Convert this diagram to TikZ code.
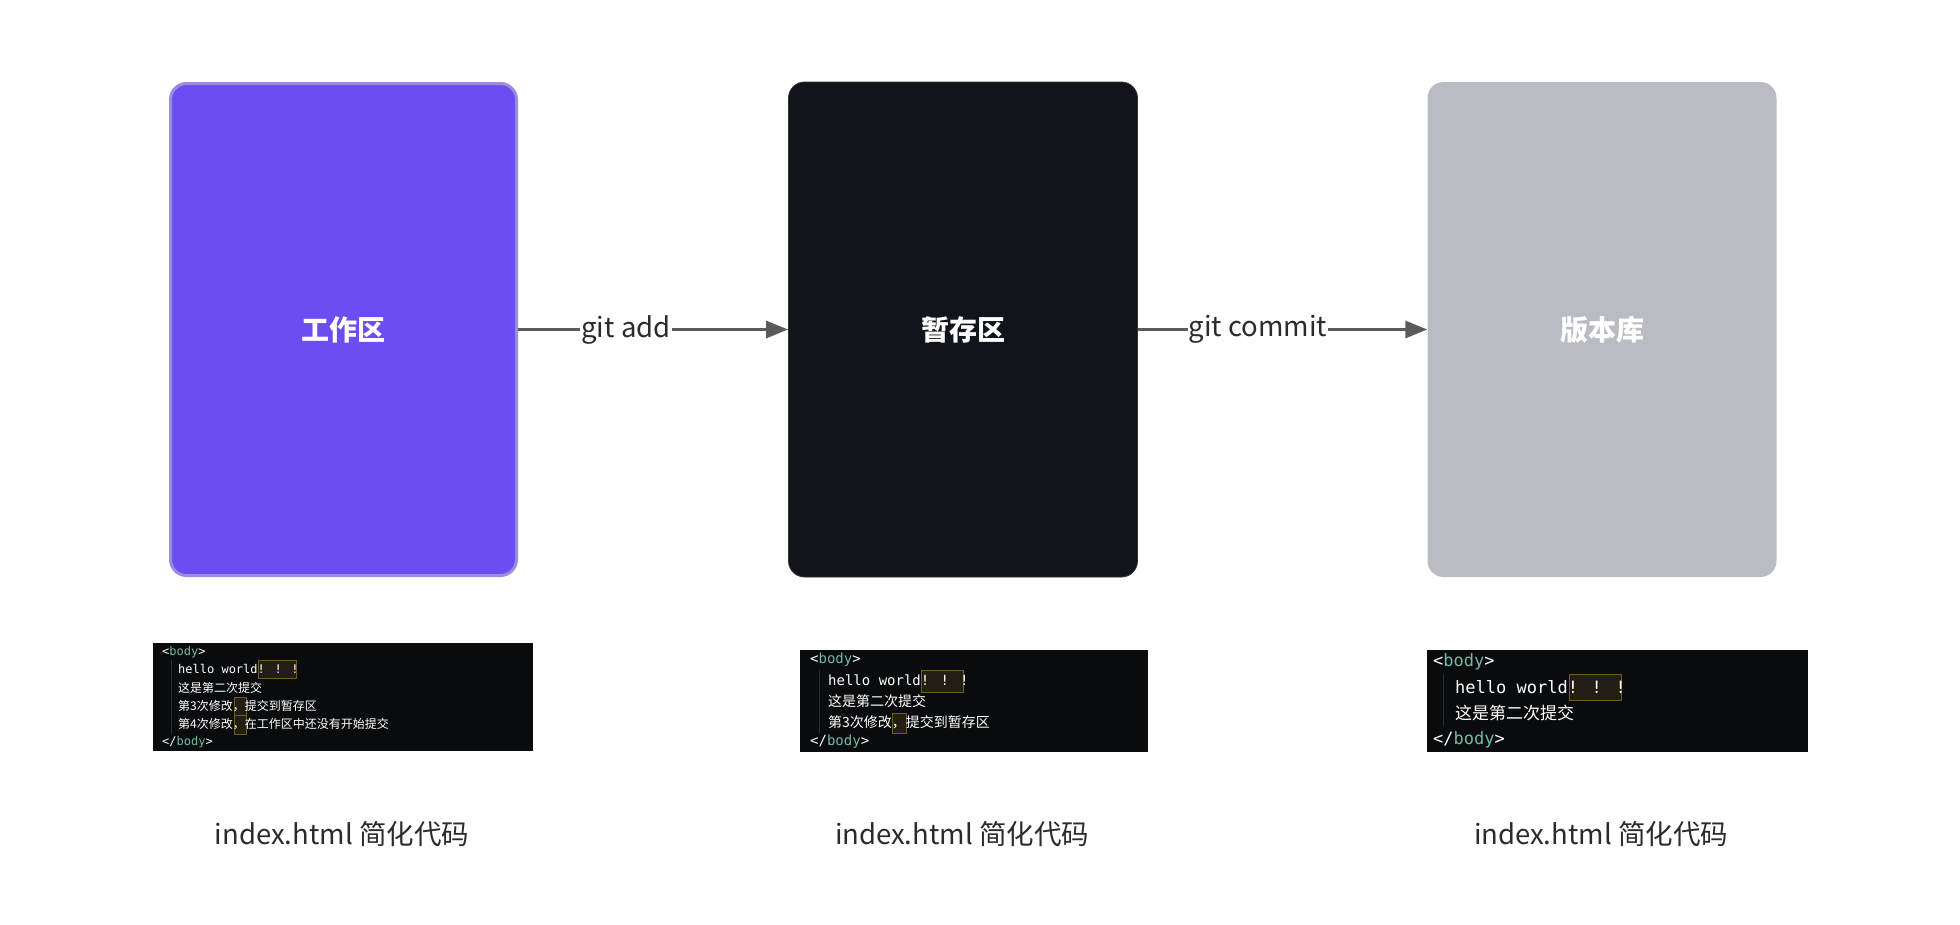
\documentclass[tikz,border=0pt]{standalone}
\usepackage{fontspec}
\setmainfont{Noto Sans CJK SC}
\newfontfamily\cjk{Noto Sans CJK SC}
\newfontfamily\mono{DejaVu Sans Mono}
\usetikzlibrary{arrows.meta}
\definecolor{purplefill}{HTML}{6C4DF2}
\definecolor{purpleline}{HTML}{9D8BE0}
\definecolor{darkfill}{HTML}{11141A}
\definecolor{greyfill}{HTML}{B9BDC3}
\definecolor{arrowcol}{HTML}{5A5C5C}
\definecolor{labelcol}{HTML}{2B2B2B}
\definecolor{codebg}{HTML}{0A0B0D}
\definecolor{tagcol}{HTML}{74B8A8}
\definecolor{hlfill}{HTML}{221E13}
\definecolor{hlline}{HTML}{6E5C22}
\definecolor{guide}{HTML}{2A2D33}
\tikzset{
  area/.style={rounded corners=16pt, inner sep=0, minimum width=349pt, minimum height=495pt, text=white, font=\cjk\bfseries\fontsize{28}{32}\selectfont},
  flow/.style={draw=arrowcol, line width=3pt, -{Triangle[length=22pt,width=17pt]}},
  cmd/.style={fill=white, inner sep=1pt, text=labelcol, font=\fontsize{27.5}{31}\selectfont},
  caption/.style={text=labelcol, font=\fontsize{27.5}{32}\selectfont},
  codebox/.style={fill=codebg, draw=none},
  cl/.style={anchor=west, inner sep=0, text=white},
  hl/.style={fill=hlfill, draw=hlline, line width=0.8pt}
}
\newcommand{\tagtxt}[1]{{\mono\textcolor{white}{<}\textcolor{tagcol}{#1}\textcolor{white}{>}}}
\begin{document}
\begin{tikzpicture}[x=1pt,y=-1pt]
\useasboundingbox[fill=white] (0,0) rectangle (1960,924);

% areas
\node[area, fill=purplefill, draw=purpleline, line width=3pt, minimum width=346pt, minimum height=492pt] (work) at (343.5,329.5) {工作区};
\node[area, fill=darkfill, draw=black!80, line width=0.8pt] (stage) at (963,329.5) {暂存区};
\node[area, fill=greyfill] (repo) at (1602,329.5) {版本库};

% connectors
\draw[flow] (work.east) -- node[cmd, pos=0.4] (addlbl) {git add} (stage.west);
\draw[flow] (stage.east) -- node[cmd, pos=0.415] (commitlbl) {git commit} (repo.west);

% code block 1
\fill[codebox] (153,643) rectangle (533,751);
\draw[guide, line width=0.8pt] (171,660) -- (171,734);
\draw[hl] (258,660) rectangle (296,678);
\draw[hl] (234,697) rectangle (246,715);
\draw[hl] (234,715.5) rectangle (246,734);
\begin{scope}[every node/.append style={font=\fontsize{12}{14}\selectfont}]
\node[cl] (c1a) at (162,652) {\tagtxt{body}};
\node[cl] (c1b) at (178,669) {\mono hello world! ! !};
\node[cl] (c1c) at (178,688) {\cjk 这是第二次提交};
\node[cl] (c1d) at (178,706.5) {\cjk 第3次修改，提交到暂存区};
\node[cl] (c1e) at (178,724.5) {\cjk 第4次修改，在工作区中还没有开始提交};
\node[cl] (c1f) at (162,742) {\mono\textcolor{white}{</}\textcolor{tagcol}{body}\textcolor{white}{>}};
\end{scope}

% code block 2
\fill[codebox] (800,650) rectangle (1148,752);
\draw[guide, line width=0.8pt] (819,670) -- (819,733);
\draw[hl] (921,670) rectangle (963,692);
\draw[hl] (892,713) rectangle (906,733);
\begin{scope}[every node/.append style={font=\fontsize{14}{16}\selectfont}]
\node[cl] (c2a) at (810,660) {\tagtxt{body}};
\node[cl] (c2b) at (828,680) {\mono hello world! ! !};
\node[cl] (c2c) at (828,701) {\cjk 这是第二次提交};
\node[cl] (c2d) at (828,722.5) {\cjk 第3次修改，提交到暂存区};
\node[cl] (c2f) at (810,742) {\mono\textcolor{white}{</}\textcolor{tagcol}{body}\textcolor{white}{>}};
\end{scope}

% code block 3
\fill[codebox] (1427,650) rectangle (1808,752);
\draw[guide, line width=0.8pt] (1443,674) -- (1443,726);
\draw[hl] (1569,674) rectangle (1621,700);
\begin{scope}[every node/.append style={font=\fontsize{17}{20}\selectfont}]
\node[cl] (c3a) at (1433,662) {\tagtxt{body}};
\node[cl] (c3b) at (1455,687) {\mono hello world! ! !};
\node[cl] (c3c) at (1455,713) {\cjk 这是第二次提交};
\node[cl] (c3f) at (1433,740) {\mono\textcolor{white}{</}\textcolor{tagcol}{body}\textcolor{white}{>}};
\end{scope}

% captions
\node[caption] (cap1) at (342,834) {index.html 简化代码};
\node[caption] (cap2) at (962,834) {index.html 简化代码};
\node[caption] (cap3) at (1601,834) {index.html 简化代码};
\end{tikzpicture}
\end{document}
